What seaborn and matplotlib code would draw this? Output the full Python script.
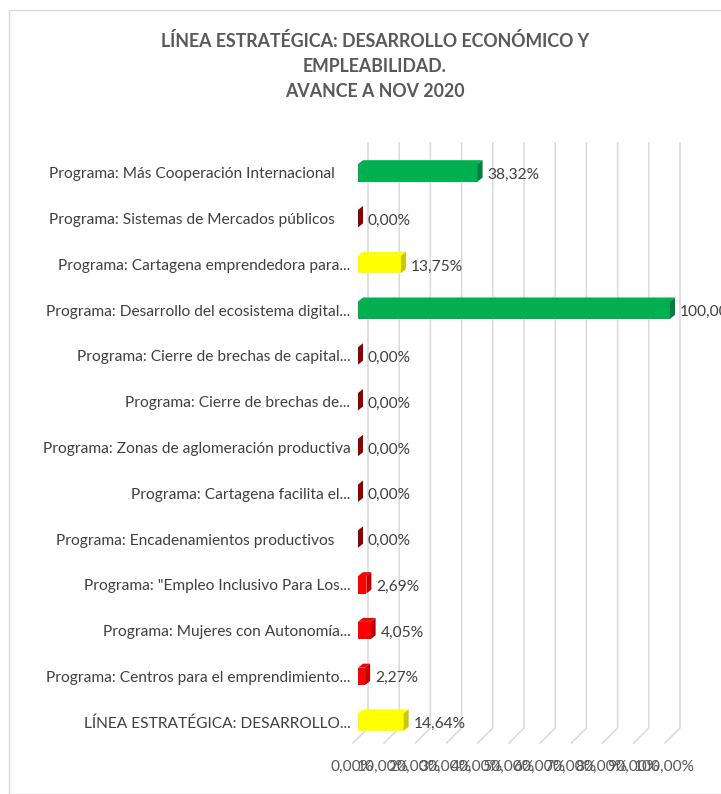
import matplotlib
matplotlib.use('Agg')
import matplotlib.pyplot as plt
import matplotlib.patches as mpatches
import matplotlib.transforms as mtransforms
from matplotlib.lines import Line2D
import seaborn as sns
import pandas as pd

# Datos del gráfico (avance en %)
programas = [
    'Programa: Más Cooperación Internacional    ',
    'Programa: Sistemas de Mercados públicos    ',
    'Programa: Cartagena emprendedora para...',
    'Programa: Desarrollo del ecosistema digital...',
    'Programa: Cierre de brechas de capital...',
    'Programa: Cierre de brechas de...',
    'Programa: Zonas de aglomeración productiva',
    'Programa: Cartagena facilita el...',
    'Programa: Encadenamientos productivos    ',
    'Programa: "Empleo Inclusivo Para Los...',
    'Programa: Mujeres con Autonomía...',
    'Programa: Centros para el emprendimiento...',
    'LÍNEA ESTRATÉGICA: DESARROLLO...',
]
avance = [38.32, 0.00, 13.75, 100.00, 0.00, 0.00, 0.00, 0.00, 0.00, 2.69, 4.05, 2.27, 14.64]
ticks = [0, 10, 20, 30, 40, 50, 60, 70, 80, 90, 100]

# colores tipo semáforo (frente, cara lateral)
colores = ['#00B050', '#C00000', '#FFFF00', '#00B050', '#C00000', '#C00000', '#C00000',
           '#C00000', '#C00000', '#FF0000', '#FF0000', '#FF0000', '#FFFF00']
sombras = {'#00B050': '#00803A', '#C00000': '#8E0000', '#FFFF00': '#C9C900', '#FF0000': '#C00000'}

df = pd.DataFrame({'Programa': programas, 'Avance': avance})

plt.rcParams['font.family'] = ['Lato', 'DejaVu Sans']
fig = plt.figure(figsize=(7.21, 7.94), dpi=100)
ax = fig.add_axes([358 / 721, 49 / 794, 312 / 721, 595 / 794])
ax.set_facecolor('none')

sns.barplot(data=df, x='Avance', y='Programa', orient='h', width=0.38, color='#00B050', ax=ax)
for p, c in zip(ax.patches, colores):
    p.set_facecolor(c)
    p.set_edgecolor('none')

ax.set_xlim(0, 100)
ax.set_xticks(ticks)
ax.set_xticklabels([f'{t:.2f}%'.replace('.', ',') for t in ticks], fontsize=11.2, color='#595959')
ax.set_xlabel('')
ax.set_ylabel('')
ax.tick_params(axis='both', length=0)
ax.tick_params(axis='y', pad=5.5, labelsize=11.2, labelcolor='#404040')
ax.tick_params(axis='x', pad=11)
for s in ax.spines.values():
    s.set_visible(False)
shift = mtransforms.ScaledTranslation(-6 / 100, 0, fig.dpi_scale_trans)
for lab in ax.get_xticklabels():
    lab.set_transform(lab.get_transform() + shift)

fig.canvas.draw()
to_px = ax.transData

# líneas de cuadrícula en la pared del fondo y el piso (efecto 3D)
top_px = to_px.transform((0, -0.5))[1] + 7
floor_px = to_px.transform((0, len(programas) - 0.5))[1] + 17
for t in ticks:
    xg = to_px.transform((t, 0))[0] + 10
    fig.add_artist(Line2D([xg, xg, xg - 15], [top_px, floor_px, floor_px - 15],
                          transform=mtransforms.IdentityTransform(),
                          color='#D9D9D9', lw=1.1, zorder=0))

# caras superior y lateral de cada barra
dx, dy = 5, 4
for p, c, v in zip(ax.patches, colores, avance):
    x0, y0 = p.get_x(), p.get_y()
    (a0, b0) = to_px.transform((x0, y0 + p.get_height()))
    (a1, b1) = to_px.transform((x0 + p.get_width(), y0))
    top = [(a0, b1), (a1, b1), (a1 + dx, b1 + dy), (a0 + dx, b1 + dy)]
    side = [(a1, b0), (a1, b1), (a1 + dx, b1 + dy), (a1 + dx, b0 + dy)]
    for poly, fc in ((top, c), (side, sombras[c])):
        fig.add_artist(mpatches.Polygon(poly, closed=True, facecolor=fc, edgecolor='none',
                                        transform=mtransforms.IdentityTransform(), zorder=3))
    yc = y0 + p.get_height() / 2
    ax.annotate(f'{v:.2f}%'.replace('.', ','), (x0 + p.get_width(), yc),
                xytext=(dx + 5, -2), textcoords='offset pixels', va='center', ha='left',
                fontsize=11.2, color='#404040', annotation_clip=False)

fig.text(375 / 721, 1 - 66 / 794,
         'LÍNEA ESTRATÉGICA: DESARROLLO ECONÓMICO Y\nEMPLEABILIDAD.\nAVANCE A NOV 2020',
         ha='center', va='center', fontsize=12.8, fontweight='bold', color='#595959',
         linespacing=1.55)

# marco del área del gráfico
fig.add_artist(mpatches.Rectangle((9, 0), 800, 784, transform=mtransforms.IdentityTransform(),
                                  facecolor='none', edgecolor='#D9D9D9', lw=1))

fig.savefig('out.png', dpi=100)
